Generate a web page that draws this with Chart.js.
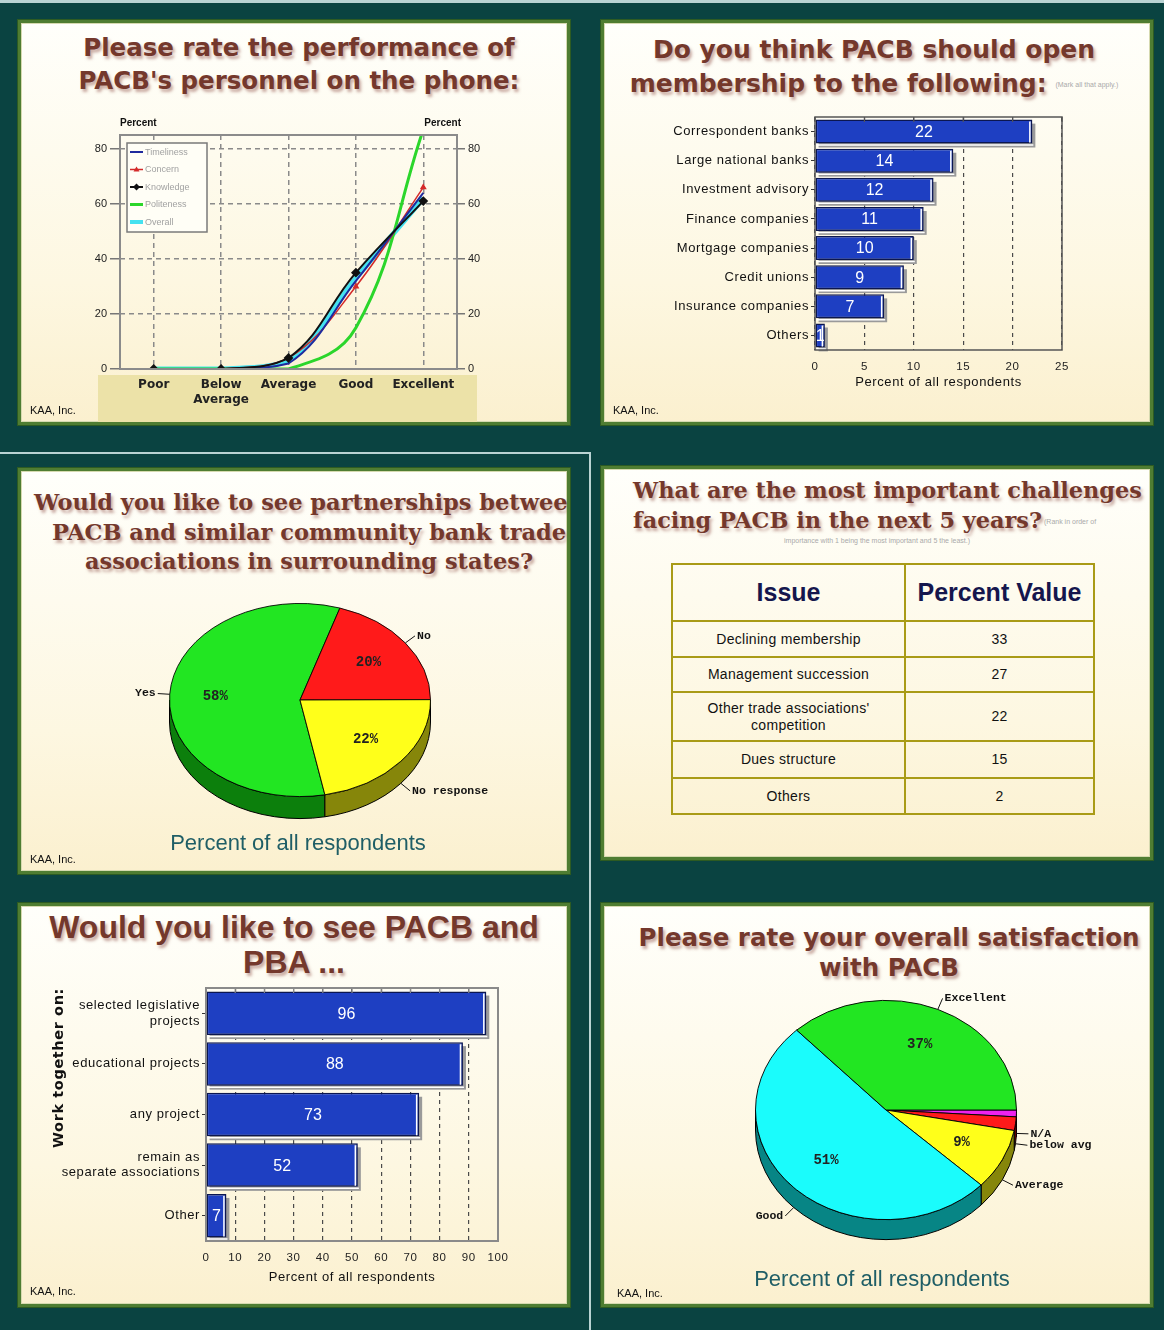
<!DOCTYPE html>
<html>
<head>
<meta charset="utf-8">
<title>PACB member survey</title>
<script src="https://cdn.jsdelivr.net/npm/chart.js@4.4.1/dist/chart.umd.min.js"></script>
<style>
  html, body { margin: 0; padding: 0; }
  body { width: 1164px; height: 1330px; background: #0a4341; position: relative; overflow: hidden; font-family: "Liberation Sans", Arial, sans-serif; }
  .rule { position: absolute; background: #b9d3d3; }
  .panel { position: absolute; box-sizing: border-box; width: 552px; border: 3px solid #4f7d32; box-shadow: 0 0 0 1px #2d5b22, inset 0 0 0 1px #d6dab0; background: linear-gradient(#fffffb, #fdf7e1 65%, #fbf0cf); overflow: hidden; }
  .panel canvas { position: absolute; left: 0; top: 0; }
  .title { position: absolute; left: 0; right: 0; text-align: center; white-space: nowrap; font-weight: bold; color: #74382c; text-shadow: 2px 3px 3px rgba(150, 90, 80, 0.5); }
  .sans { font-family: "DejaVu Sans", sans-serif; }
  .serif { font-family: "DejaVu Serif", serif; }
  .small { font-family: "Liberation Sans", sans-serif; font-size: 7px; font-weight: normal; color: #aaa; text-shadow: none; vertical-align: middle; }
  .kaa { position: absolute; left: 9px; font-size: 11px; color: #111; }
  .note { position: absolute; left: 0; right: 0; text-align: center; font-size: 22px; line-height: 25px; color: #1f5e66; }
  #issueTable { position: absolute; left: 67px; top: 94px; width: 424px; border-collapse: collapse; table-layout: fixed; }
  #issueTable th, #issueTable td { border: 2px solid #a99b17; text-align: center; padding: 0 4px; }
  #issueTable th { height: 55px; font-size: 25px; color: #15164d; }
  #issueTable td { font-size: 14px; color: #111; letter-spacing: 0.3px; line-height: 17px; }
  #issueTable tr:nth-child(1) td { height: 34px; }
  #issueTable tr:nth-child(2) td { height: 33px; }
  #issueTable tr:nth-child(3) td { height: 47px; }
  #issueTable tr:nth-child(4) td { height: 35px; }
  #issueTable tr:nth-child(5) td { height: 34px; }
</style>
</head>
<body>
<div class="rule" style="left:0;top:0;width:1164px;height:3px"></div>
<div class="rule" style="left:0;top:452px;width:591px;height:2px"></div>
<div class="rule" style="left:589px;top:452px;width:2px;height:878px"></div>

<div class="panel" style="left:18px;top:20px;height:405px">
  <div class="title sans" style="top:8px;font-size:24.5px;line-height:33px;padding-left:10px">Please rate the performance of<br>PACB's personnel on the phone:</div>
  <canvas id="phoneChart" width="546" height="399"></canvas>
  <div class="kaa" style="top:381px">KAA, Inc.</div>
</div>

<div class="panel" style="left:601px;top:20px;height:405px">
  <div class="title sans" style="top:10px;font-size:25px;line-height:34px;padding-right:6px">Do you think PACB should open<br>membership to the following: <span class="small">(Mark all that apply.)</span></div>
  <canvas id="memberChart" width="546" height="399"></canvas>
  <div class="kaa" style="top:381px">KAA, Inc.</div>
</div>

<div class="panel" style="left:18px;top:468px;height:406px">
  <div class="title serif" style="top:17px;left:-60px;right:-60px;font-size:22.5px;line-height:29.5px;padding-left:30px">Would you like to see partnerships between<br>PACB and similar community bank trade<br>associations in surrounding states?</div>
  <canvas id="partnerChart" width="546" height="400"></canvas>
  <div class="note" style="top:359px;padding-left:8px">Percent of all respondents</div>
  <div class="kaa" style="top:382px">KAA, Inc.</div>
</div>

<div class="panel" style="left:601px;top:466px;height:394px">
  <div class="title serif" style="top:6px;left:29px;text-align:left;font-size:22.4px;line-height:30px">What are the most important challenges<br>facing PACB in the next 5 years?<span class="small"> (Rank in order of</span></div>
  <div class="title" style="top:62px"><span class="small">importance with 1 being the most important and 5 the least.)</span></div>
  <table id="issueTable">
    <thead><tr><th style="width:223px">Issue</th><th>Percent Value</th></tr></thead>
    <tbody id="issueRows"></tbody>
  </table>
</div>

<div class="panel" style="left:18px;top:903px;height:404px">
  <div class="title" style="top:4px;font-size:32px;line-height:35px;font-family:'Liberation Sans',sans-serif">Would you like to see PACB and<br>PBA ...</div>
  <canvas id="workChart" width="546" height="398"></canvas>
  <div class="kaa" style="top:379px">KAA, Inc.</div>
</div>

<div class="panel" style="left:601px;top:903px;height:404px">
  <div class="title sans" style="top:17px;font-size:24.5px;line-height:30px;padding-left:24px">Please rate your overall satisfaction<br>with PACB</div>
  <canvas id="satisfactionChart" width="546" height="398"></canvas>
  <div class="note" style="top:360px;padding-left:10px">Percent of all respondents</div>
  <div class="kaa" style="top:381px;left:13px">KAA, Inc.</div>
</div>

<script>
// ----- data -----
const ratingLabels = ['Poor', ['Below', 'Average'], 'Average', 'Good', 'Excellent'];
const timeliness = [0, 0, 2, 32, 64];
const concern = [0, 0, 4, 30, 66];
const knowledge = [0, 0, 4, 35, 61];
const politeness = [0, 0, 0, 15, 87];
const overall = [0, 0, 3, 33, 62];

const memberCats = ['Correspondent banks', 'Large national banks', 'Investment advisory', 'Finance companies',
    'Mortgage companies', 'Credit unions', 'Insurance companies', 'Others'];
const memberValues = [22, 14, 12, 11, 10, 9, 7, 1];

const partnerCats = ['Yes', 'No', 'No response'];
const partnerValues = [58, 20, 22];

const issues = ['Declining membership', 'Management succession', "Other trade associations' competition",
    'Dues structure', 'Others'];
const issueValues = [33, 27, 22, 15, 2];

const workCats = [['selected legislative', 'projects'], 'educational projects', 'any project',
    ['remain as', 'separate associations'], 'Other'];
const workValues = [96, 88, 73, 52, 7];

const satisfactionCats = ['N/A', 'below avg', 'Average', 'Good', 'Excellent'];
const satisfactionValues = [1, 2, 9, 51, 37];

Chart.defaults.font.family = '"Liberation Sans", Arial, sans-serif';
Chart.defaults.animation = false;
Chart.defaults.plugins.legend.display = false;
Chart.defaults.plugins.tooltip.enabled = false;

// ----- table -----
const rows = document.getElementById('issueRows');
issues.forEach((issue, i) => {
    const tr = document.createElement('tr');
    tr.innerHTML = `<td>${issue}</td><td>${issueValues[i]}</td>`;
    rows.appendChild(tr);
});

// ----- line chart: phone personnel -----
const phoneExtras = {
    id: 'phoneExtras',
    beforeDraw(chart) {
        const { ctx, chartArea: a } = chart;
        ctx.save();
        ctx.fillStyle = '#ece2a8';
        ctx.fillRect(a.left - 22, a.bottom + 6, a.width + 42, 60);
        ctx.restore();
    },
    afterDraw(chart) {
        const { ctx, chartArea: a } = chart;
        ctx.save();
        ctx.strokeStyle = '#8b8b8b';
        ctx.lineWidth = 2;
        ctx.strokeRect(a.left, a.top, a.width, a.height);

        ctx.fillStyle = '#111';
        ctx.font = 'bold 10px "Liberation Sans"';
        ctx.textBaseline = 'middle';
        ctx.textAlign = 'left';
        ctx.fillText('Percent', a.left, a.top - 12);
        ctx.textAlign = 'right';
        ctx.fillText('Percent', a.right + 4, a.top - 12);

        // legend box in the top-left corner of the plot
        const x0 = a.left + 7, y0 = a.top + 8;
        ctx.fillStyle = '#fffef6';
        ctx.fillRect(x0, y0, 80, 89);
        ctx.strokeStyle = '#7a7a7a';
        ctx.lineWidth = 1.5;
        ctx.strokeRect(x0, y0, 80, 89);
        ctx.font = '9px "Liberation Sans"';
        ctx.textAlign = 'left';
        chart.data.datasets.forEach((ds, i) => {
            const y = y0 + 9 + i * 17.5;
            ctx.strokeStyle = ds.borderColor;
            ctx.lineWidth = Math.min(ds.borderWidth, 4);
            ctx.beginPath();
            ctx.moveTo(x0 + 3, y);
            ctx.lineTo(x0 + 16, y);
            ctx.stroke();
            if (ds.pointRadius) {
                ctx.fillStyle = ds.borderColor;
                ctx.beginPath();
                if (ds.pointStyle === 'rectRot') {
                    ctx.moveTo(x0 + 9.5, y - 3.5); ctx.lineTo(x0 + 13, y); ctx.lineTo(x0 + 9.5, y + 3.5); ctx.lineTo(x0 + 6, y);
                } else {
                    ctx.moveTo(x0 + 9.5, y - 3); ctx.lineTo(x0 + 12.5, y + 2); ctx.lineTo(x0 + 6.5, y + 2);
                }
                ctx.fill();
            }
            ctx.fillStyle = '#a2a2a2';
            ctx.fillText(ds.label, x0 + 18, y + 0.5);
        });
        ctx.restore();
    }
};

const yTicks = { stepSize: 20, includeBounds: false, color: '#222', font: { size: 11 }, padding: 3 };

new Chart(document.getElementById('phoneChart'), {
    type: 'line',
    data: {
        labels: ratingLabels,
        datasets: [
            { label: 'Timeliness', data: timeliness, borderColor: '#1f2a9e', borderWidth: 2, pointRadius: 0, order: 1 },
            { label: 'Concern', data: concern, borderColor: '#d42a2a', borderWidth: 1.5, pointStyle: 'triangle',
              pointRadius: 2.5, pointBackgroundColor: '#d42a2a', order: 2 },
            { label: 'Knowledge', data: knowledge, borderColor: '#111111', borderWidth: 2, pointStyle: 'rectRot',
              pointRadius: 3.5, pointBackgroundColor: '#111111', order: 0 },
            { label: 'Politeness', data: politeness, borderColor: '#2bd62b', borderWidth: 3, pointRadius: 0, order: 3 },
            { label: 'Overall', data: overall, borderColor: '#45e2f0', borderWidth: 5, pointRadius: 0, order: 4 }
        ]
    },
    options: {
        responsive: false,
        devicePixelRatio: 1,
        layout: { padding: { left: 55, right: 66, top: 112, bottom: 3 } },
        elements: { line: { tension: 0.4 } },
        scales: {
            x: {
                offset: true,
                grid: { offset: false, color: '#8a8a8a', lineWidth: 1.5, tickLength: 6, tickColor: 'rgba(0,0,0,0)' },
                border: { display: false, dash: [5, 4] },
                ticks: { color: '#222', font: { family: 'DejaVu Sans', weight: 'bold', size: 12 }, maxRotation: 0, autoSkip: false, padding: 3 },
                afterFit: s => { s.height = 50; }
            },
            y: {
                position: 'left', min: 0, max: 85, ticks: yTicks,
                grid: { color: '#8a8a8a', lineWidth: 1.5, tickLength: 10, tickColor: '#777' },
                border: { display: false, dash: [5, 4] },
                afterFit: s => { s.width = 44; }
            },
            y2: {
                position: 'right', min: 0, max: 85, ticks: yTicks,
                grid: { drawOnChartArea: false, tickLength: 8, tickColor: '#777', lineWidth: 1.5 },
                border: { display: false },
                afterFit: s => { s.width = 44; }
            }
        }
    },
    plugins: [phoneExtras]
});

// ----- horizontal bar charts -----
const barDeco = {
    id: 'barDeco',
    beforeDraw(chart, args, o) {
        // the slide text is drawn with loose letter spacing
        chart.ctx.letterSpacing = o.spacing;
    },
    beforeDatasetsDraw(chart) {
        const { ctx } = chart;
        ctx.save();
        ctx.fillStyle = '#9a9a9a';
        chart.getDatasetMeta(0).data.forEach(b => {
            ctx.fillRect(b.base + 3, b.y - b.height / 2 + 4, b.x - b.base, b.height);
        });
        ctx.restore();
    },
    afterDatasetsDraw(chart, args, o) {
        const { ctx, chartArea: a } = chart;
        const values = chart.data.datasets[0].data;
        ctx.save();
        ctx.letterSpacing = '0px';
        chart.getDatasetMeta(0).data.forEach((b, i) => {
            const top = b.y - b.height / 2, bot = b.y + b.height / 2;
            ctx.strokeStyle = '#ffffff';
            ctx.lineWidth = 1.5;
            ctx.beginPath();
            ctx.moveTo(b.x - 2.5, top + 2);
            ctx.lineTo(b.x - 2.5, bot - 1);
            ctx.moveTo(b.base + 1, bot + 1.5);
            ctx.lineTo(b.x + 1, bot + 1.5);
            ctx.stroke();
            ctx.fillStyle = '#ffffff';
            ctx.font = o.font;
            ctx.textAlign = 'center';
            ctx.textBaseline = 'middle';
            ctx.fillText(String(values[i]), (b.base + b.x) / 2, b.y + 1);
        });
        // plot frame and inward ticks on the top edge
        ctx.strokeStyle = o.box;
        ctx.lineWidth = o.boxWidth;
        ctx.strokeRect(a.left, a.top, a.width, a.height);
        const xs = chart.scales.x;
        ctx.lineWidth = 1.2;
        ctx.beginPath();
        xs.ticks.forEach(t => {
            const px = xs.getPixelForValue(t.value);
            ctx.moveTo(px, a.top);
            ctx.lineTo(px, a.top + 5);
        });
        ctx.stroke();
        ctx.restore();
    },
    afterDraw(chart) {
        chart.ctx.letterSpacing = '0px';
    }
};

function barChart(id, labels, values, o) {
    return new Chart(document.getElementById(id), {
        type: 'bar',
        data: {
            labels: labels,
            datasets: [{
                data: values,
                backgroundColor: '#1e3fc2',
                borderColor: '#0b1650',
                borderWidth: 1.5,
                borderSkipped: false,
                barPercentage: o.barPct,
                categoryPercentage: 1
            }]
        },
        options: {
            indexAxis: 'y',
            responsive: false,
            devicePixelRatio: 1,
            layout: { padding: o.padding },
            plugins: { barDeco: { font: o.valueFont, box: o.box, boxWidth: o.boxWidth, spacing: '0.6px' } },
            scales: {
                x: {
                    min: 0, max: o.max,
                    ticks: { stepSize: o.step, color: '#222', font: { size: 11.5 }, padding: 4, maxRotation: 0 },
                    grid: { color: '#4a4a4a', lineWidth: 1.2, tickLength: 6, tickColor: 'rgba(0,0,0,0)' },
                    border: { display: false, dash: [4, 4] },
                    title: { display: true, text: 'Percent of all respondents', color: '#111', font: { size: 13 } },
                    afterFit: s => { s.height = o.xHeight; }
                },
                y: {
                    ticks: { color: '#111', font: { size: o.catSize }, padding: 2, autoSkip: false },
                    grid: { offset: false, drawOnChartArea: false, tickLength: 4, tickColor: '#333' },
                    border: { display: false },
                    title: o.yTitle || { display: false },
                    afterFit: s => { s.width = o.yWidth; }
                }
            }
        },
        plugins: [barDeco]
    });
}

barChart('memberChart', memberCats, memberValues, {
    padding: { left: 0, right: 88, top: 94, bottom: 28 },
    yWidth: 211, xHeight: 44, max: 25, step: 5, barPct: 0.82, catSize: 13,
    valueFont: '16px "Liberation Sans"', box: '#555', boxWidth: 1.5
});

barChart('workChart', workCats, workValues, {
    padding: { left: 26, right: 69, top: 82, bottom: 15 },
    yWidth: 159, xHeight: 48, max: 100, step: 10, barPct: 0.86, catSize: 13,
    valueFont: '16px "Liberation Sans"', box: '#8a8a8a', boxWidth: 2,
    yTitle: { display: true, text: 'Work together on:', align: 'end', color: '#111',
              font: { family: 'DejaVu Sans', weight: 'bold', size: 14.5 }, padding: { top: 4, bottom: 4 } }
});

// ----- tilted pies -----
const pie3d = {
    id: 'pie3d',
    beforeDatasetsDraw(chart, args, o) {
        const { ctx } = chart;
        const arcs = chart.getDatasetMeta(0).data;
        const cx = arcs[0].x, cy = arcs[0].y, r = arcs[0].outerRadius;
        ctx.save();
        ctx.lineWidth = 1;
        ctx.strokeStyle = '#000';
        arcs.forEach((a, i) => {
            [0, 2 * Math.PI, -2 * Math.PI].forEach(off => {
                const lo = Math.max(a.startAngle, off), hi = Math.min(a.endAngle, off + Math.PI);
                if (hi <= lo) return;
                ctx.beginPath();
                ctx.ellipse(cx, cy, r, r * o.k, 0, lo, hi);
                ctx.ellipse(cx, cy + o.depth, r, r * o.k, 0, hi, lo, true);
                ctx.closePath();
                ctx.fillStyle = o.sideColors[i];
                ctx.fill();
                ctx.stroke();
            });
        });
        ctx.restore();
        // squash the top face
        ctx.save();
        ctx.translate(cx, cy);
        ctx.scale(1, o.k);
        ctx.translate(-cx, -cy);
    },
    afterDatasetsDraw(chart) {
        chart.ctx.restore();
    },
    afterDraw(chart, args, o) {
        const { ctx } = chart;
        const arcs = chart.getDatasetMeta(0).data;
        const values = chart.data.datasets[0].data;
        const labels = chart.data.labels;
        const cx = arcs[0].x, cy = arcs[0].y, r = arcs[0].outerRadius;
        ctx.save();
        ctx.textBaseline = 'middle';
        arcs.forEach((a, i) => {
            const mid = (a.startAngle + a.endAngle) / 2;
            const c = Math.cos(mid), s = Math.sin(mid);
            if (values[i] >= o.minPct) {
                ctx.font = 'bold 14px "Liberation Mono"';
                ctx.fillStyle = '#222';
                ctx.textAlign = 'center';
                ctx.fillText(values[i] + '%', cx + c * r * 0.65, cy + s * r * o.k * 0.65);
            }
            const ex = cx + c * r, ey = cy + s * r * o.k + (s > 0 ? o.depth : 0);
            const lx = ex + c * o.lead, ly = ey + s * o.lead;
            ctx.strokeStyle = '#111';
            ctx.lineWidth = 1;
            ctx.beginPath();
            ctx.moveTo(ex, ey);
            ctx.lineTo(lx, ly);
            ctx.stroke();
            ctx.font = 'bold 11.5px "Liberation Mono"';
            ctx.fillStyle = '#111';
            ctx.textAlign = c >= 0 ? 'left' : 'right';
            ctx.fillText(labels[i], lx + (c >= 0 ? 2 : -2), ly);
        });
        ctx.restore();
    }
};

new Chart(document.getElementById('partnerChart'), {
    type: 'pie',
    data: {
        labels: partnerCats,
        datasets: [{ data: partnerValues, backgroundColor: ['#22e622', '#ff1a1a', '#ffff1a'],
                     borderColor: '#000', borderWidth: 1, clip: false }]
    },
    options: {
        responsive: false,
        devicePixelRatio: 1,
        rotation: 169,
        layout: { padding: { left: 148, right: 136, top: 98, bottom: 40 } },
        plugins: { pie3d: { k: 0.74, depth: 22, lead: 12, minPct: 5, sideColors: ['#0c7f0c', '#800000', '#86860a'] } }
    },
    plugins: [pie3d]
});

new Chart(document.getElementById('satisfactionChart'), {
    type: 'pie',
    data: {
        labels: satisfactionCats,
        datasets: [{ data: satisfactionValues, backgroundColor: ['#ee22ee', '#ff1a1a', '#ffff1a', '#1afcfc', '#22e622'],
                     borderColor: '#000', borderWidth: 1, clip: false }]
    },
    options: {
        responsive: false,
        devicePixelRatio: 1,
        rotation: 90,
        layout: { padding: { left: 151, right: 133, top: 73, bottom: 63 } },
        plugins: { pie3d: { k: 0.84, depth: 20, lead: 12, minPct: 5, sideColors: ['#800080', '#800000', '#86860a', '#078585', '#0c7f0c'] } }
    },
    plugins: [pie3d]
});
</script>
</body>
</html>
